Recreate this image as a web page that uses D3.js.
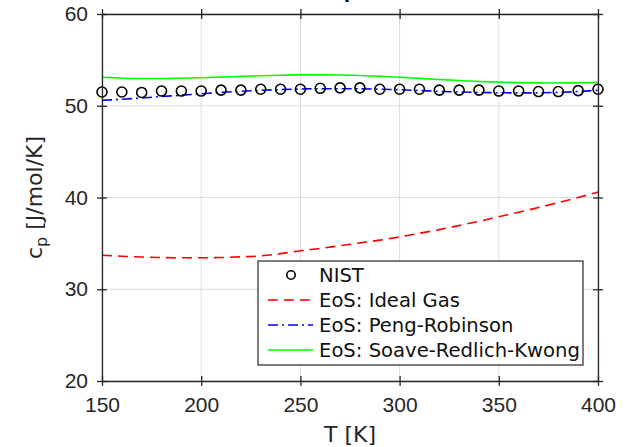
<!DOCTYPE html>
<html>
<head>
<meta charset="utf-8">
<script src="https://cdn.jsdelivr.net/npm/d3@7"></script>
<style>
  body { margin: 0; background: #fff; }
  svg { display: block; font-family: "DejaVu Sans", sans-serif; }
  .grid line { stroke: #dcdcdc; stroke-width: 1; }
  .tick text { fill: #262626; }
</style>
</head>
<body>
<div id="chart"></div>
<script>
// temperatures [K]
var temps = [150, 160, 170, 180, 190, 200, 210, 220, 230, 240, 250, 260, 270,
             280, 290, 300, 310, 320, 330, 340, 350, 360, 370, 380, 390, 400];
// NIST cp [J/mol/K]
var nist = [51.5, 51.5, 51.45, 51.6, 51.6, 51.6, 51.7, 51.7, 51.8, 51.8, 51.8, 51.9, 51.95,
            51.95, 51.8, 51.8, 51.8, 51.7, 51.7, 51.7, 51.6, 51.6, 51.55, 51.55, 51.65, 51.8];
// model curves
var idealGas = [33.7, 33.6, 33.52, 33.46, 33.43, 33.43, 33.46, 33.53, 33.64, 33.88, 34.2, 34.45, 34.75,
                35.05, 35.35, 35.7, 36.1, 36.5, 36.95, 37.4, 37.9, 38.4, 38.9, 39.45, 40.0, 40.6];
var pengRob = [50.6, 50.7, 50.85, 51.0, 51.15, 51.3, 51.45, 51.58, 51.68, 51.76, 51.82, 51.86, 51.86,
               51.84, 51.8, 51.75, 51.66, 51.57, 51.5, 51.45, 51.42, 51.4, 51.41, 51.46, 51.55, 51.7];
var soaveRK = [53.1, 53.0, 52.97, 52.97, 53.0, 53.05, 53.12, 53.2, 53.27, 53.32, 53.36, 53.37, 53.35,
               53.3, 53.2, 53.1, 52.98, 52.86, 52.75, 52.65, 52.57, 52.52, 52.49, 52.48, 52.5, 52.55];

var xTicks = [150, 200, 250, 300, 350, 400];
var yTicks = [20, 30, 40, 50, 60];
var legendNames = ["NIST", "EoS: Ideal Gas", "EoS: Peng-Robinson", "EoS: Soave-Redlich-Kwong"];

var width = 627,
    height = 447,
    margin = {top: 14, right: 29, bottom: 66, left: 102};
var w = width - margin.left - margin.right,
    h = height - margin.top - margin.bottom;

var svg = d3.select("#chart").append("svg")
    .attr("width", width)
    .attr("height", height);

var g = svg.append("g")
    .attr("transform", "translate(" + margin.left + "," + margin.top + ")");

var x = d3.scaleLinear().domain([150, 400]).range([0, w]);
var y = d3.scaleLinear().domain([20, 60]).range([h, 0]);

// grid
g.append("g").attr("class", "grid")
  .selectAll("line").data(xTicks).enter().append("line")
  .attr("x1", d => x(d)).attr("x2", d => x(d))
  .attr("y1", 0).attr("y2", h);
g.append("g").attr("class", "grid")
  .selectAll("line").data(yTicks).enter().append("line")
  .attr("y1", d => y(d)).attr("y2", d => y(d))
  .attr("x1", 0).attr("x2", w);

// curves
var rows = temps.map(function(t, i) {
  return {t: t, nist: nist[i], ig: idealGas[i], pr: pengRob[i], srk: soaveRK[i]};
});
function lineOf(key) {
  return d3.line().curve(d3.curveMonotoneX)
    .x(d => x(d.t)).y(d => y(d[key]));
}
g.append("path").datum(rows)
  .attr("fill", "none").attr("stroke", "#ff0000").attr("stroke-width", 1.6)
  .attr("stroke-dasharray", "10,6")
  .attr("d", lineOf("ig"));
g.append("path").datum(rows)
  .attr("fill", "none").attr("stroke", "#00ff00").attr("stroke-width", 1.6)
  .attr("d", lineOf("srk"));
g.append("path").datum(rows)
  .attr("fill", "none").attr("stroke", "#0000ff").attr("stroke-width", 1.6)
  .attr("stroke-dasharray", "10,4,2,4")
  .attr("d", lineOf("pr"));

g.selectAll("circle.nist").data(rows).enter().append("circle")
  .attr("class", "nist")
  .attr("cx", d => x(d.t)).attr("cy", d => y(d.nist))
  .attr("r", 5)
  .attr("fill", "none").attr("stroke", "#000").attr("stroke-width", 1.6);

// axes, ticks in and out on all four sides
var axisColor = "#262626";
function styleAxis(sel) {
  sel.select(".domain").attr("stroke", axisColor).attr("stroke-width", 1.3);
  sel.selectAll(".tick line").attr("stroke", axisColor).attr("stroke-width", 1.3);
  sel.selectAll(".tick text").style("font-size", "21px");
}
var xAxis = g.append("g").attr("transform", "translate(0," + h + ")")
  .call(d3.axisBottom(x).tickValues(xTicks).tickSizeInner(5).tickSizeOuter(0).tickPadding(11));
styleAxis(xAxis);
xAxis.selectAll(".tick line").attr("y1", -5);

var xTop = g.append("g")
  .call(d3.axisTop(x).tickValues(xTicks).tickSizeInner(5).tickSizeOuter(0).tickFormat(""));
styleAxis(xTop);
xTop.selectAll(".tick line").attr("y1", 5);

var yAxis = g.append("g")
  .call(d3.axisLeft(y).tickValues(yTicks).tickSizeInner(5).tickSizeOuter(0).tickPadding(9));
styleAxis(yAxis);
yAxis.selectAll(".tick line").attr("x1", 5);

var yRight = g.append("g").attr("transform", "translate(" + w + ",0)")
  .call(d3.axisRight(y).tickValues(yTicks).tickSizeInner(5).tickSizeOuter(0).tickFormat(""));
styleAxis(yRight);
yRight.selectAll(".tick line").attr("x1", -5);

// axis labels
svg.append("text")
  .attr("x", margin.left + w / 2).attr("y", 442)
  .attr("text-anchor", "middle")
  .style("font-size", "22px").attr("fill", axisColor)
  .text("T [K]");

var yl = svg.append("text")
  .attr("transform", "translate(42," + (margin.top + h / 2) + ") rotate(-90)")
  .attr("text-anchor", "middle")
  .style("font-size", "22px").attr("fill", axisColor);
yl.append("tspan").text("c");
yl.append("tspan").attr("dy", 5).style("font-size", "16px").text("p");
yl.append("tspan").attr("dy", -5).text(" [J/mol/K]");

// title, mostly clipped at the top
var title = svg.append("text")
  .attr("x", 351).attr("y", -6)
  .attr("text-anchor", "end")
  .style("font-size", "22px").style("font-weight", "bold").attr("fill", "#000");
title.append("tspan").text("CH");
title.append("tspan").attr("dy", 8).style("font-size", "17px").text("4");

// legend
var leg = svg.append("g").attr("transform", "translate(258,261)");
leg.append("rect")
  .attr("width", 325).attr("height", 104)
  .attr("fill", "#fff").attr("stroke", axisColor).attr("stroke-width", 1.2);

var legY = d3.scalePoint().domain(legendNames).range([14, 89]);
var legStyles = [
  {color: "#000", dash: null},
  {color: "#ff0000", dash: "10,6"},
  {color: "#0000ff", dash: "10,4,2,4"},
  {color: "#00ff00", dash: null}
];
legendNames.forEach(function(name, i) {
  var yy = legY(name);
  if (i === 0) {
    leg.append("circle").attr("cx", 33).attr("cy", yy).attr("r", 4.2)
      .attr("fill", "none").attr("stroke", "#000").attr("stroke-width", 1.6);
  } else {
    leg.append("line").attr("x1", 10).attr("x2", 55).attr("y1", yy).attr("y2", yy)
      .attr("stroke", legStyles[i].color).attr("stroke-width", 1.6)
      .attr("stroke-dasharray", legStyles[i].dash);
  }
  leg.append("text").attr("x", 61).attr("y", yy).attr("dy", "0.36em")
    .style("font-size", "19.6px").attr("fill", "#111")
    .text(name);
});
</script>
</body>
</html>
